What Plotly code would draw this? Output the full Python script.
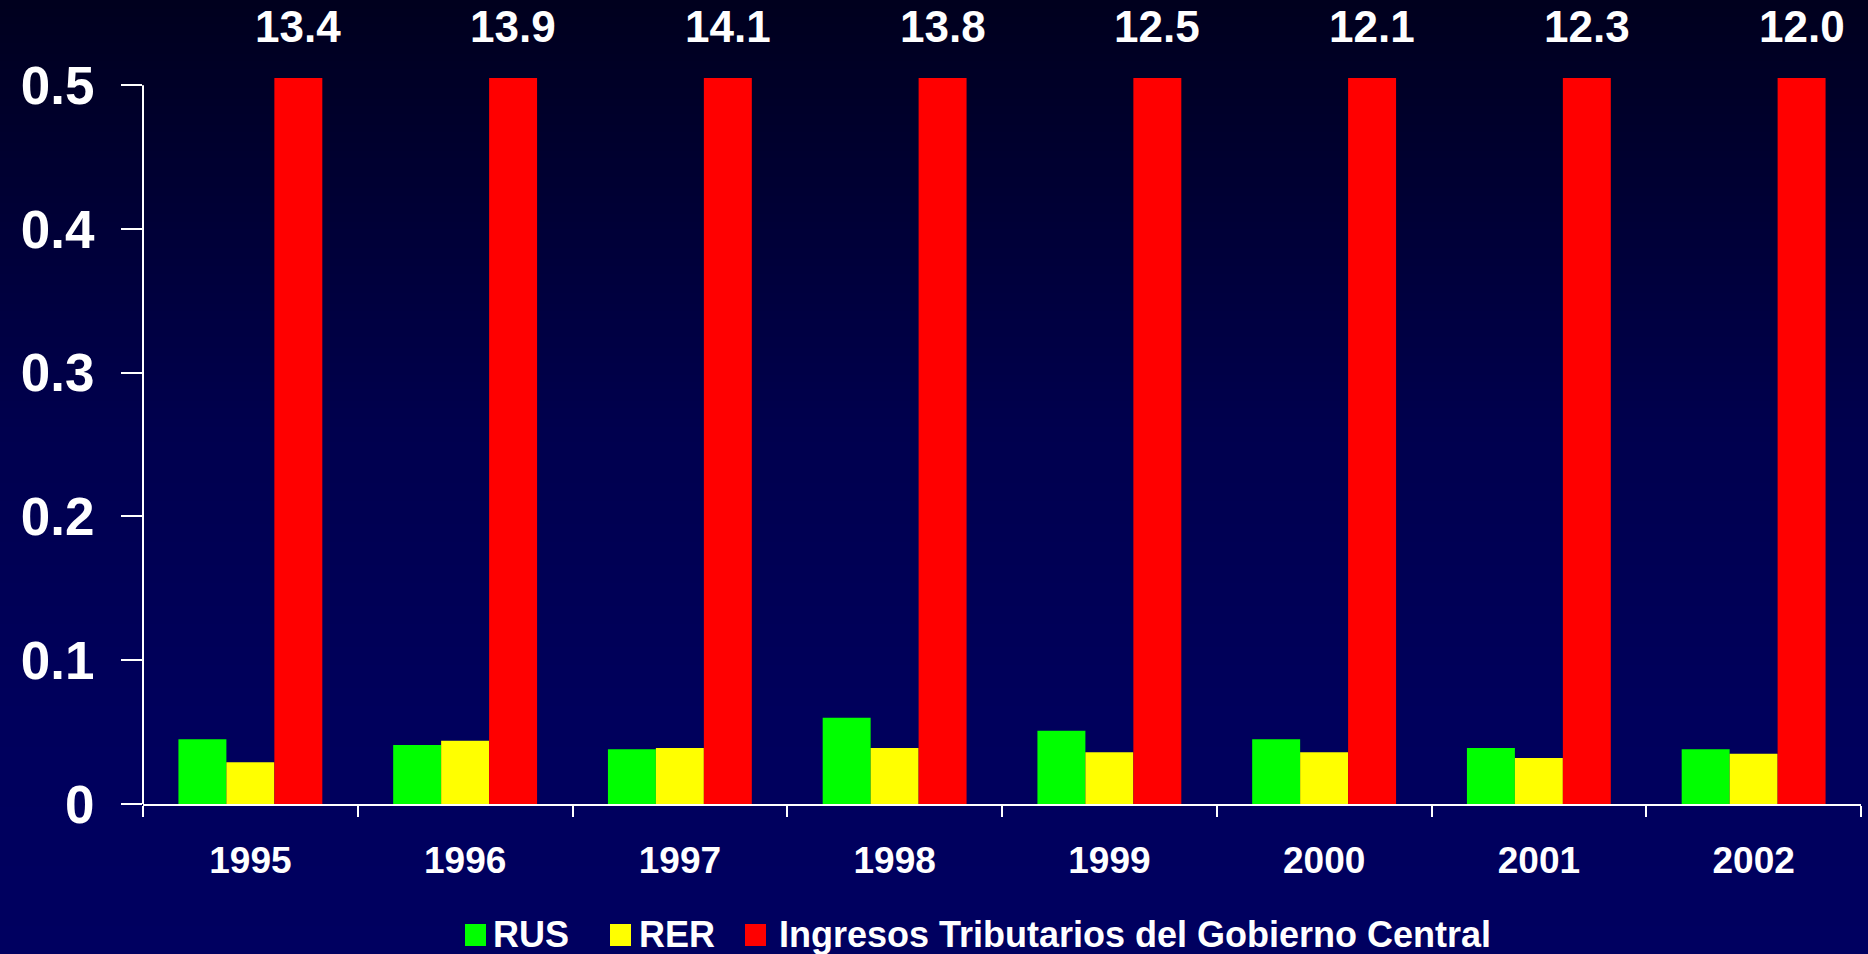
import base64
import struct
import zlib

import plotly.graph_objects as go

# --- data -------------------------------------------------------------
years = ["1995", "1996", "1997", "1998", "1999", "2000", "2001", "2002"]
rus = [0.045, 0.041, 0.038, 0.060, 0.051, 0.045, 0.039, 0.038]
rer = [0.029, 0.044, 0.039, 0.039, 0.036, 0.036, 0.032, 0.035]
ingresos = [13.4, 13.9, 14.1, 13.8, 12.5, 12.1, 12.3, 12.0]
series_names = ["RUS", "RER", "Ingresos Tributarios del Gobierno Central"]
series_colors = ["#00FF00", "#FFFF00", "#FF0000"]
y_tick_vals = [0, 0.1, 0.2, 0.3, 0.4, 0.5]
y_tick_text = ["0", "0.1", "0.2", "0.3", "0.4", "0.5"]

# --- page geometry ----------------------------------------------------
W, H = 1868, 954
ML, MR, MT, MB = 143, 7, 78, 150
PW, PH = W - ML - MR, H - MT - MB
Y_MAX = 0.505
FONT = "Liberation Sans, Arial, sans-serif"


def px_x(px):
    """Page pixel column -> paper x."""
    return (px - ML) / PW


def px_y(py):
    """Page pixel row -> paper y."""
    return (H - MB - py) / PH


def gradient_png(height, stops):
    """Vertical navy gradient as a 1-pixel-wide PNG data URI."""
    rows = b""
    for i in range(height):
        t = i / (height - 1)
        for (t0, c0), (t1, c1) in zip(stops[:-1], stops[1:]):
            if t0 <= t <= t1:
                f = (t - t0) / (t1 - t0) if t1 > t0 else 0
                c = [round(a + (b - a) * f) for a, b in zip(c0, c1)]
                break
        rows += b"\x00" + bytes(c)

    def chunk(tag, data):
        body = tag + data
        return struct.pack(">I", len(data)) + body + struct.pack(">I", zlib.crc32(body) & 0xFFFFFFFF)

    png = b"\x89PNG\r\n\x1a\n"
    png += chunk(b"IHDR", struct.pack(">IIBBBBB", 1, height, 8, 2, 0, 0, 0))
    png += chunk(b"IDAT", zlib.compress(rows))
    png += chunk(b"IEND", b"")
    return "data:image/png;base64," + base64.b64encode(png).decode()


bg = gradient_png(
    256,
    [(0.0, (0, 0, 30)), (0.45, (0, 0, 78)), (0.75, (0, 0, 92)), (1.0, (0, 0, 96))],
)

fig = go.Figure()
for name, values, color in zip(series_names, [rus, rer, ingresos], series_colors):
    fig.add_bar(x=years, y=values, name=name, marker=dict(color=color, line_width=0))

# value labels above the (clipped) red bars
bargap = 0.33
bar_w = (1 - bargap) / 3
for i, v in enumerate(ingresos):
    fig.add_annotation(
        x=i + bar_w,
        xref="x",
        y=px_y(27),
        yref="paper",
        text=f"{v:.1f}",
        showarrow=False,
        yanchor="middle",
        font=dict(family=FONT, size=44, color="white", weight="bold"),
    )

# y-axis spine drawn only over the 0-0.5 span
fig.add_shape(
    type="line",
    xref="paper",
    yref="y",
    x0=0,
    x1=0,
    y0=0,
    y1=0.5,
    line=dict(color="white", width=2),
)

# legend row at the foot of the page: large colour squares + labels
swatch_px = [465, 610, 745]
label_px = [491, 637, 777]
sq_top, sq_bot = 924, 946
for name, color, sx, lx in zip(series_names, series_colors, swatch_px, label_px):
    fig.add_shape(
        type="rect",
        xref="paper",
        yref="paper",
        x0=px_x(sx),
        x1=px_x(sx + 21),
        y0=px_y(sq_bot),
        y1=px_y(sq_top),
        fillcolor=color,
        line_width=0,
    )
    fig.add_annotation(
        x=px_x(lx),
        xref="paper",
        y=px_y((sq_top + sq_bot) / 2 - 1),
        yref="paper",
        text=name,
        showarrow=False,
        xanchor="left",
        yanchor="middle",
        font=dict(family=FONT, size=36, color="white", weight="bold"),
    )

fig.add_layout_image(
    source=bg,
    xref="paper",
    yref="paper",
    x=-ML / PW,
    y=1 + MT / PH,
    sizex=W / PW,
    sizey=H / PH,
    xanchor="left",
    yanchor="top",
    sizing="stretch",
    layer="below",
)

fig.update_layout(
    width=W,
    height=H,
    margin=dict(l=ML, r=MR, t=MT, b=MB, pad=0),
    barmode="group",
    bargap=bargap,
    bargroupgap=0,
    paper_bgcolor="#000050",
    plot_bgcolor="rgba(0,0,0,0)",
    showlegend=False,
    xaxis=dict(
        type="category",
        showline=True,
        linecolor="white",
        linewidth=2,
        ticks="outside",
        tickson="boundaries",
        ticklen=11,
        tickwidth=2,
        tickcolor="white",
        showgrid=False,
        zeroline=False,
        ticklabelstandoff=23,
        tickfont=dict(family=FONT, size=37, color="white", weight="bold"),
        range=[-0.5, len(years) - 0.5],
    ),
    yaxis=dict(
        range=[0, Y_MAX],
        tickvals=y_tick_vals,
        ticktext=y_tick_text,
        ticks="outside",
        ticklen=21,
        tickwidth=2,
        tickcolor="white",
        showline=False,
        showgrid=False,
        zeroline=False,
        ticklabelstandoff=16,
        tickfont=dict(family=FONT, size=53, color="white", weight="bold"),
    ),
)

fig.write_html("out.html")
